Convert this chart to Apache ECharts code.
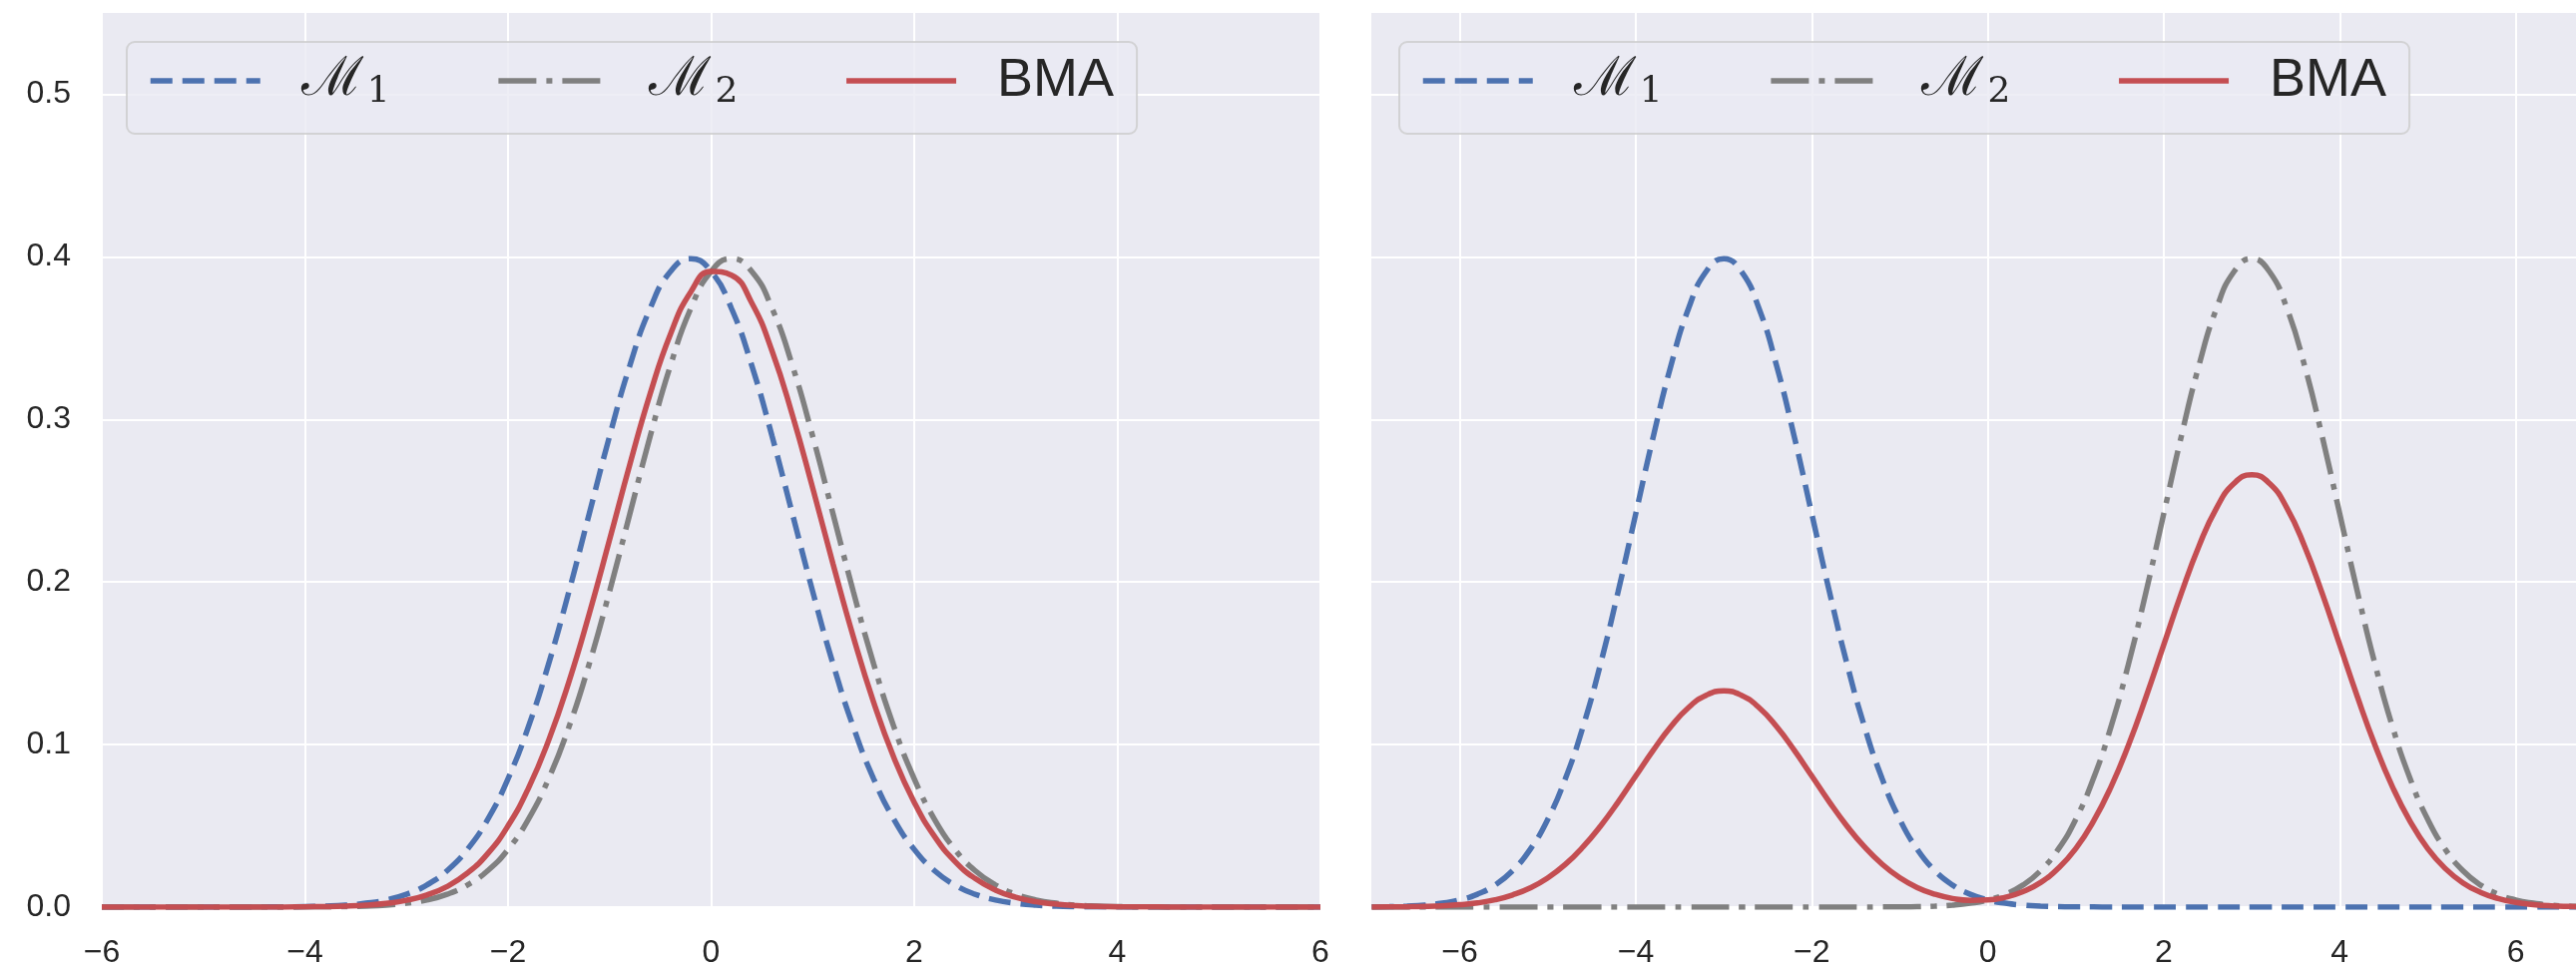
<!DOCTYPE html>
<html>
<head>
<meta charset="utf-8">
<script src="https://cdn.jsdelivr.net/npm/echarts@6/dist/echarts.min.js"></script>
<style>
  html, body { margin: 0; padding: 0; background: #fff; }
  #chart { width: 2581px; height: 971px; }
</style>
</head>
<body>
<div id="chart"></div>
<script>
// 左图：两个几乎重合的模型
const xLeft = [-6.0,-5.8,-5.6,-5.4,-5.2,-5.0,-4.8,-4.6,-4.4,-4.2,-4.0,-3.8,-3.6,-3.4,-3.2,-3.0,-2.8,-2.6,-2.4,-2.2,
  -2.0,-1.8,-1.6,-1.4,-1.2,-1.0,-0.8,-0.6,-0.4,-0.2,0.0,0.2,0.4,0.6,0.8,1.0,1.2,1.4,1.6,1.8,
  2.0,2.2,2.4,2.6,2.8,3.0,3.2,3.4,3.6,3.8,4.0,4.2,4.4,4.6,4.8,5.0,5.2,5.4,5.6,5.8,6.0];
const m1Left = [0,0,0,0,0,0,0,0,0.0001,0.0001,0.0003,0.0006,0.0012,0.0024,0.0044,0.0079,0.0136,0.0224,0.0355,0.0540,
  0.0790,0.1109,0.1497,0.1942,0.2420,0.2897,0.3332,0.3683,0.3910,0.3989,0.3910,0.3683,0.3332,0.2897,0.2420,0.1942,0.1497,0.1109,0.0790,0.0540,
  0.0355,0.0224,0.0136,0.0079,0.0044,0.0024,0.0012,0.0006,0.0003,0.0001,0.0001,0,0,0,0,0,0,0,0,0,0];
const m2Left = [0,0,0,0,0,0,0,0,0,0,0.0001,0.0001,0.0003,0.0006,0.0012,0.0024,0.0044,0.0079,0.0136,0.0224,
  0.0355,0.0540,0.0790,0.1109,0.1497,0.1942,0.2420,0.2897,0.3332,0.3683,0.3910,0.3989,0.3910,0.3683,0.3332,0.2897,0.2420,0.1942,0.1497,0.1109,
  0.0790,0.0540,0.0355,0.0224,0.0136,0.0079,0.0044,0.0024,0.0012,0.0006,0.0003,0.0001,0.0001,0,0,0,0,0,0,0,0];
const bmaLeft = [0,0,0,0,0,0,0,0,0,0,0.0002,0.0003,0.0006,0.0012,0.0023,0.0042,0.0075,0.0127,0.0209,0.0329,
  0.0500,0.0730,0.1026,0.1387,0.1805,0.2260,0.2724,0.3159,0.3525,0.3785,0.3910,0.3887,0.3717,0.3421,0.3028,0.2579,0.2112,0.1664,0.1261,0.0919,
  0.0645,0.0435,0.0282,0.0176,0.0105,0.0061,0.0033,0.0018,0.0009,0.0004,0.0002,0.0001,0.0001,0,0,0,0,0,0,0,0];

// 右图：两个分开的模型
const xRight = [-7.0,-6.8,-6.6,-6.4,-6.2,-6.0,-5.8,-5.6,-5.4,-5.2,-5.0,-4.8,-4.6,-4.4,-4.2,-4.0,-3.8,-3.6,-3.4,-3.2,
  -3.0,-2.8,-2.6,-2.4,-2.2,-2.0,-1.8,-1.6,-1.4,-1.2,-1.0,-0.8,-0.6,-0.4,-0.2,0.0,0.2,0.4,0.6,0.8,
  1.0,1.2,1.4,1.6,1.8,2.0,2.2,2.4,2.6,2.8,3.0,3.2,3.4,3.6,3.8,4.0,4.2,4.4,4.6,4.8,
  5.0,5.2,5.4,5.6,5.8,6.0,6.2,6.4,6.6,6.8,7.0];
const m1Right = [0.0001,0.0003,0.0006,0.0012,0.0024,0.0044,0.0079,0.0136,0.0224,0.0355,0.0540,0.0790,0.1109,0.1497,0.1942,0.2420,0.2897,0.3332,0.3683,0.3910,
  0.3989,0.3910,0.3683,0.3332,0.2897,0.2420,0.1942,0.1497,0.1109,0.0790,0.0540,0.0355,0.0224,0.0136,0.0079,0.0044,0.0024,0.0012,0.0006,0.0003,
  0.0001,0.0001,0,0,0,0,0,0,0,0,0,0,0,0,0,0,0,0,0,0,
  0,0,0,0,0,0,0,0,0,0,0];
const m2Right = [0,0,0,0,0,0,0,0,0,0,0,0,0,0,0,0,0,0,0,0,
  0,0,0,0,0,0,0,0,0,0.0001,0.0001,0.0003,0.0006,0.0012,0.0024,0.0044,0.0079,0.0136,0.0224,0.0355,
  0.0540,0.0790,0.1109,0.1497,0.1942,0.2420,0.2897,0.3332,0.3683,0.3910,0.3989,0.3910,0.3683,0.3332,0.2897,0.2420,0.1942,0.1497,0.1109,0.0790,
  0.0540,0.0355,0.0224,0.0136,0.0079,0.0044,0.0024,0.0012,0.0006,0.0003,0.0001];
const bmaRight = [0,0.0001,0.0002,0.0004,0.0008,0.0015,0.0026,0.0045,0.0075,0.0118,0.0180,0.0263,0.0370,0.0499,0.0647,0.0807,0.0966,0.1111,0.1228,0.1303,
  0.1330,0.1303,0.1228,0.1111,0.0966,0.0807,0.0647,0.0499,0.0370,0.0264,0.0181,0.0120,0.0079,0.0053,0.0042,0.0044,0.0061,0.0095,0.0151,0.0238,
  0.0360,0.0527,0.0739,0.0998,0.1295,0.1613,0.1931,0.2221,0.2455,0.2607,0.2659,0.2607,0.2455,0.2221,0.1931,0.1613,0.1295,0.0998,0.0739,0.0527,
  0.0360,0.0237,0.0149,0.0091,0.0053,0.0029,0.0016,0.0008,0.0004,0.0002,0.0001];

const xTicks = [-6, -4, -2, 0, 2, 4, 6];
const yTicks = [0, 0.1, 0.2, 0.3, 0.4, 0.5];
const seriesNames = ['M1', 'M2', 'BMA'];

const BG = '#EAEAF2';
const TEXT = '#262626';
const LW = 5.5;
const styles = {
  M1: { color: '#4C72B0', type: [22, 10] },
  M2: { color: '#808080', type: [38, 10, 6, 10] },
  BMA: { color: '#C44E52', type: 'solid' }
};

const fmtMinus = (v) => (v < 0 ? '\u2212' + Math.abs(v) : String(v));
const pairs = (xs, ys) => xs.map((x, i) => [x, ys[i]]);

function makeLegend(left) {
  return {
    left: left,
    top: 42,
    orient: 'horizontal',
    data: seriesNames,
    selectedMode: false,
    itemWidth: 110,
    itemHeight: 14,
    itemGap: 106,
    padding: [12, 23, 23, 21],
    backgroundColor: 'rgba(234,234,242,0.8)',
    borderColor: 'rgba(204,204,204,0.8)',
    borderWidth: 2,
    borderRadius: 8,
    lineStyle: { width: LW },
    // 隐藏图例中线条中间的圆点
    itemStyle: { opacity: 0, borderWidth: 0 },
    formatter: (name) => name === 'BMA' ? '{b|BMA}' : '{m|\u2133}{s|' + name.slice(1) + '}',
    textStyle: {
      color: TEXT,
      fontFamily: 'Liberation Sans',
      fontSize: 54,
      padding: [0, 0, 0, 36],
      rich: {
        m: { fontFamily: 'DejaVu Serif', fontSize: 54, width: 66, lineHeight: 60, color: TEXT },
        s: { fontFamily: 'DejaVu Serif', fontSize: 36, width: 20, lineHeight: 36, verticalAlign: 'bottom', color: TEXT },
        b: { fontFamily: 'Liberation Sans', fontSize: 54, width: 116, lineHeight: 60, color: TEXT }
      }
    }
  };
}

function makeSeries(name, xs, ys, idx) {
  return {
    name: name,
    type: 'line',
    xAxisIndex: idx,
    yAxisIndex: idx,
    data: pairs(xs, ys),
    symbol: 'none',
    showSymbol: false,
    smooth: 0.5,
    lineStyle: { width: LW, color: styles[name].color, type: styles[name].type },
    itemStyle: { color: styles[name].color },
    animation: false
  };
}

const splitWhite = { show: true, lineStyle: { color: '#FFFFFF', width: 2 } };

const yAxisBase = {
  type: 'value',
  min: 0,
  max: 0.55,
  axisLine: { show: false },
  axisTick: { show: false, customValues: yTicks },
  splitLine: splitWhite
};

const chart = echarts.init(document.getElementById('chart'), null, { renderer: 'canvas' });

chart.setOption({
  backgroundColor: '#FFFFFF',
  animation: false,
  grid: [
    { left: 102, top: 13, width: 1221, height: 899, show: true, backgroundColor: BG, borderWidth: 0 },
    { left: 1374, top: 13, right: 0, height: 899, show: true, backgroundColor: BG, borderWidth: 0 }
  ],
  legend: [makeLegend(127), makeLegend(1402)],
  xAxis: [
    {
      type: 'value', gridIndex: 0, min: -6, max: 6, interval: 2,
      axisLine: { show: false }, axisTick: { show: false },
      splitLine: splitWhite,
      axisLabel: { color: TEXT, fontSize: 32, fontFamily: 'Liberation Sans', margin: 30, formatter: fmtMinus }
    },
    {
      type: 'value', gridIndex: 1, min: -7.005, max: 6.685,
      axisLine: { show: false },
      axisTick: { show: false, customValues: xTicks },
      splitLine: splitWhite,
      axisLabel: { color: TEXT, fontSize: 32, fontFamily: 'Liberation Sans', margin: 30, customValues: xTicks, formatter: fmtMinus }
    }
  ],
  yAxis: [
    Object.assign({}, yAxisBase, {
      gridIndex: 0,
      axisLabel: { color: TEXT, fontSize: 32, fontFamily: 'Liberation Sans', margin: 31, customValues: yTicks, formatter: (v) => v.toFixed(1) }
    }),
    Object.assign({}, yAxisBase, { gridIndex: 1, axisLabel: { show: false } })
  ],
  series: [
    makeSeries('M1', xLeft, m1Left, 0),
    makeSeries('M2', xLeft, m2Left, 0),
    makeSeries('BMA', xLeft, bmaLeft, 0),
    makeSeries('M1', xRight, m1Right, 1),
    makeSeries('M2', xRight, m2Right, 1),
    makeSeries('BMA', xRight, bmaRight, 1)
  ]
});
</script>
</body>
</html>
